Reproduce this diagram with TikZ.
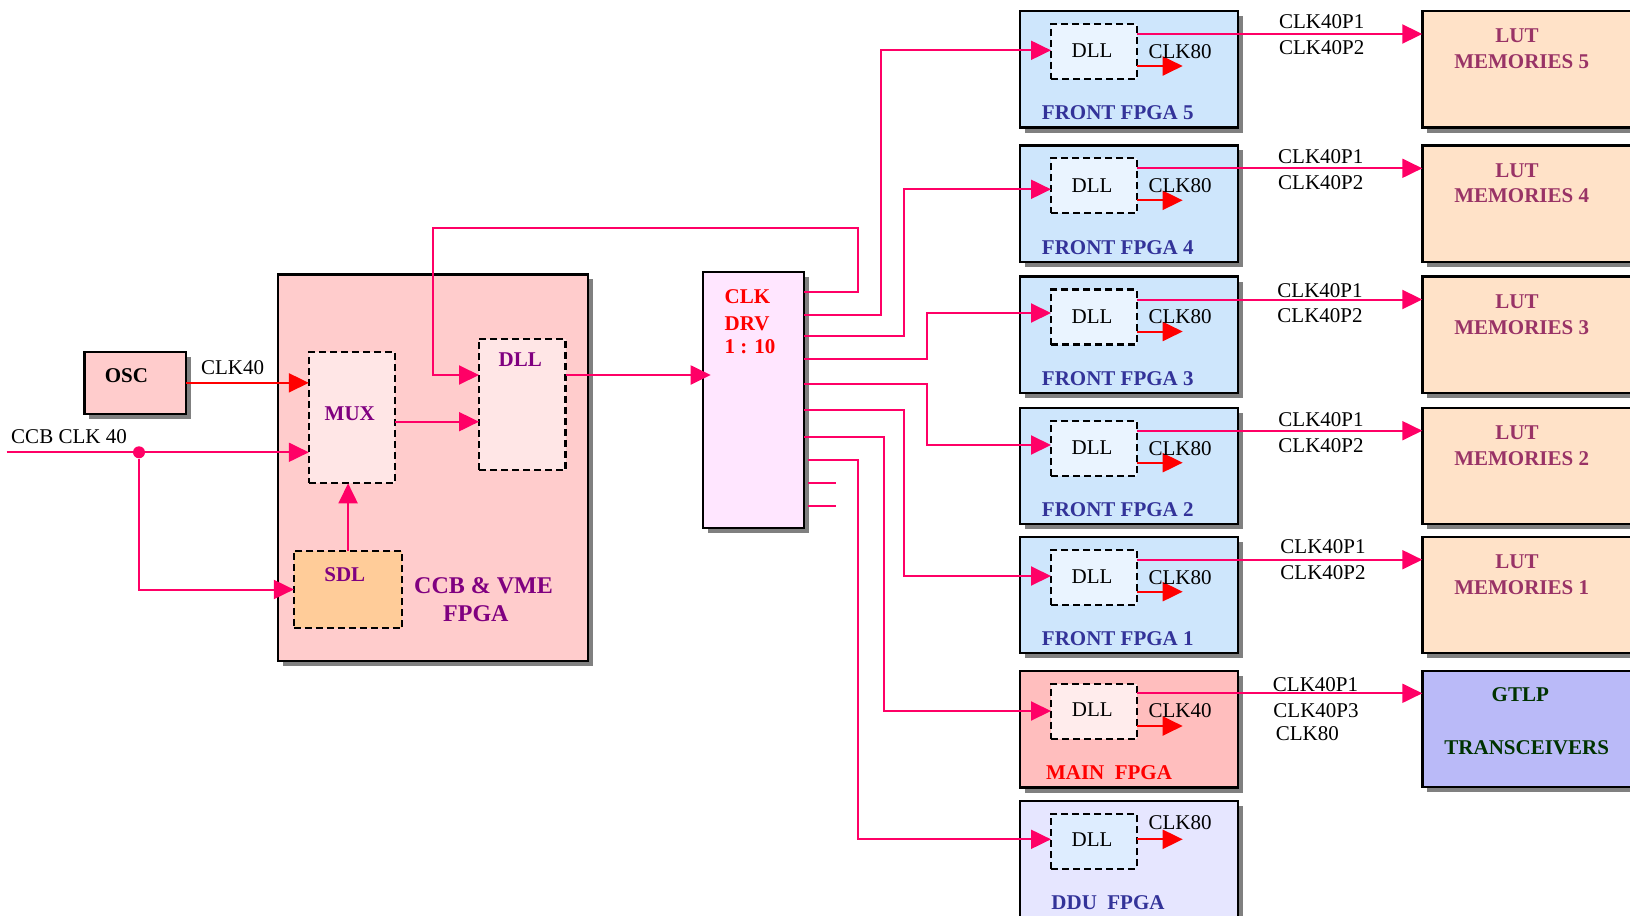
\documentclass[tikz,border=0pt]{standalone}
\usepackage{fontspec}
\setmainfont{Liberation Serif}
\usetikzlibrary{arrows.meta,shadows,fit}
\definecolor{pk}{RGB}{255,0,102}
\definecolor{rd}{RGB}{255,0,0}
\definecolor{ccbfill}{RGB}{255,204,204}
\definecolor{muxfill}{RGB}{255,230,230}
\definecolor{sdlfill}{RGB}{255,204,153}
\definecolor{drvfill}{RGB}{255,230,255}
\definecolor{fpgafill}{RGB}{206,230,252}
\definecolor{fdllfill}{RGB}{234,244,255}
\definecolor{mainfill}{RGB}{255,190,190}
\definecolor{mdllfill}{RGB}{255,236,236}
\definecolor{ddufill}{RGB}{230,230,255}
\definecolor{ddllfill}{RGB}{222,237,255}
\definecolor{lutfill}{RGB}{255,226,200}
\definecolor{gtlpfill}{RGB}{186,186,248}
\definecolor{purp}{RGB}{128,0,128}
\definecolor{fblue}{RGB}{51,51,153}
\definecolor{lutc}{RGB}{153,51,102}
\definecolor{gtc}{RGB}{0,51,0}
\definecolor{shd}{RGB}{128,128,128}
\newcommand{\myfs}{\fontsize{10.5}{12}\selectfont}
\newcommand{\mybig}{\fontsize{12}{14}\selectfont}
\tikzset{
 bx/.style={draw=black, line width=1.2pt, inner sep=0pt, outer sep=0pt,
   drop shadow={shadow xshift=2.5pt,shadow yshift=-2.5pt,fill=shd,opacity=1}},
 dbx/.style={draw=black, line width=1.1pt, dash pattern=on 3.5pt off 2pt, inner sep=0pt, outer sep=0pt},
 pa/.style={draw=pk, line width=1pt, -{Triangle[length=10pt,width=9.5pt]}},
 pl/.style={draw=pk, line width=1pt},
 ra/.style={draw=rd, line width=1pt, -{Triangle[length=10pt,width=9.5pt]}},
 txt/.style={font=\myfs, inner sep=0pt},
 btxt/.style={font=\myfs\bfseries, inner sep=0pt},
}
\begin{document}
\begin{tikzpicture}[x=0.5pt,y=-0.5pt]
\useasboundingbox (0,0) rectangle (1630,916);
\clip (0,0) rectangle (1630,916);
% ---------------- left part boxes
\node[bx, fill=ccbfill, fit={(84.3,351.7) (185.8,414)}] (osc) {};
\node[bx, fill=ccbfill, fit={(277.8,274.3) (588,661)}] (ccb) {};
\node[dbx, fill=muxfill, fit={(308.8,351.7) (394.6,483.3)}] (mux) {};
\node[dbx, fill=muxfill, fit={(479,338.7) (565.5,470)}] (cdll) {};
\node[dbx, fill=sdlfill, fit={(293.9,550.7) (402.3,628.3)}] (sdl) {};
\node[bx, fill=drvfill, fit={(702.7,272) (804,528)}] (drv) {};
% ---------------- right part boxes
\foreach \n/\T in {5/11, 4/145.3, 3/276.5, 2/407.7, 1/536.7}{
  \node[bx, fill=fpgafill, fit={(1020,\T) (1237.7,\T+116.5)}] (f\n) {};
  \node[dbx, fill=fdllfill, fit={(1051,\T+13) (1136.7,\T+68)}] (d\n) {};
  \node[bx, fill=lutfill, fit={(1422.3,\T) (1680,\T+116.5)}] (lut\n) {};
}
\node[bx, fill=mainfill, fit={(1020,671) (1237.7,787.5)}] (fm) {};
\node[dbx, fill=mdllfill, fit={(1051,684) (1136.7,739)}] (dm) {};
\node[bx, fill=gtlpfill, fit={(1422.3,670.7) (1680,786.7)}] (gtlp) {};
\node[bx, fill=ddufill, fit={(1020,800.7) (1237.7,940)}] (fd) {};
\node[dbx, fill=ddllfill, fit={(1051,813.7) (1136.7,868.7)}] (dd) {};
% ---------------- coordinates
\coordinate (ccbin) at (6.5,452.3);
\node[circle, fill=pk, inner sep=0pt, minimum size=6pt] (dot) at (139,452.3) {};
\coordinate (mxo) at (394.6,421.7);
\coordinate (cin) at (479,375);
\coordinate (drvin) at (710.7,375);
\coordinate (o1) at (804,292);
\coordinate (o2) at (804,315);
\coordinate (o3) at (804,336.3);
\coordinate (o4) at (804,359.3);
\coordinate (o5) at (804,384.3);
\coordinate (o6) at (804,410);
\coordinate (o7) at (804,436.7);
\coordinate (o8) at (808.3,460.3);
\coordinate (o9) at (808.3,483.3);
\coordinate (o10) at (808.3,506);
\coordinate (s9) at (835.7,483.3);
\coordinate (s10) at (835.7,506);
\coordinate (in5) at (1051,50.3);
\coordinate (in4) at (1051,189.3);
\coordinate (in3) at (1051,313);
\coordinate (in2) at (1051,445);
\coordinate (in1) at (1051,576);
\coordinate (inm) at (1051,711);
\coordinate (ind) at (1051,839.3);
% ---------------- left connectors
\draw[ra] (osc.east) -- (mux.west |- osc.east);
\draw[pl] (ccbin) -- (dot);
\draw[pa] (dot) -- (mux.west |- dot);
\draw[pa] (dot) |- (sdl.west);
\draw[pa] (sdl.north) -- (mux.south -| sdl.north);
\draw[pa] (mxo) -- (cdll.west |- mxo);
\draw[pa] (cdll.east |- drvin) -- (drvin);
\draw[pa] (o1) -| (858,228) -| (433,375) -- (cin);
% ---------------- driver outputs
\draw[pa] (o2) -| (881,50.3) -- (in5);
\draw[pa] (o3) -| (904,189.3) -- (in4);
\draw[pa] (o4) -| (927,313) -- (in3);
\draw[pa] (o5) -| (927,445) -- (in2);
\draw[pa] (o6) -| (904.3,576) -- (in1);
\draw[pa] (o7) -| (884.3,711) -- (inm);
\draw[pa] (o8) -| (858.3,839.3) -- (ind);
\draw[pl] (o9) -- (s9);
\draw[pl] (o10) -- (s10);
% ---------------- FPGA internal and LUT links
\foreach \n/\T in {5/11, 4/145.3, 3/276.5, 2/407.7, 1/536.7}{
  \coordinate (lo\n) at (1136.7,\T+23);
  \coordinate (ce\n) at (1182.7,\T+55);
  \draw[pa] (lo\n) -- (lut\n.west |- lo\n);
  \draw[ra] (d\n.east |- ce\n) -- (ce\n);
  \node[txt] (dt\n) at (1092,\T+40) {DLL};
  \node[txt] (ct\n) at (1180,\T+40.5) {CLK80};
  \node[btxt, text=fblue] (fl\n) at (1117.8,\T+102) {FRONT FPGA \n};
  \node[btxt, text=lutc] (lu\n) at (1517,\T+25) {LUT};
  \node[btxt, text=lutc] (lm\n) at (1521.7,\T+50.7) {MEMORIES \n};
}
\foreach \n/\pa/\pb/\px in {5/21.7/47.7/1321.7, 4/156.7/182.7/1320.8, 3/291/316/1320, 2/420/446/1321, 1/546.8/572.8/1323}{
  \node[txt] (pa\n) at (\px,\pa) {CLK40P1};
  \node[txt] (pb\n) at (\px,\pb) {CLK40P2};
}
% main fpga
\coordinate (lom) at (1136.7,693.3);
\coordinate (cem) at (1182.7,726);
\draw[pa] (lom) -- (gtlp.west |- lom);
\draw[ra] (dm.east |- cem) -- (cem);
\node[txt] (dtm) at (1092.4,710) {DLL};
\node[txt] (ctm) at (1180,710.7) {CLK40};
\node[btxt, text=rd] (flm) at (1109,772.7) {MAIN\ \ FPGA};
\node[txt] (pm1) at (1315.5,685) {CLK40P1};
\node[txt] (pm3) at (1316,710.7) {CLK40P3};
\node[txt] (pm8) at (1307.4,733.3) {CLK80};
\node[btxt, text=gtc] (gt1) at (1520.3,695) {GTLP};
\node[btxt, text=gtc] (gt2) at (1526.7,747.3) {TRANSCEIVERS};
% ddu fpga
\coordinate (ced) at (1182.7,839.3);
\draw[ra] (dd.east |- ced) -- (ced);
\node[txt] (dtd) at (1092,839.3) {DLL};
\node[txt] (ctd) at (1180,823) {CLK80};
\node[btxt, text=fblue] (fld) at (1108,902.7) {DDU\ \ FPGA};
% ---------------- left texts
\node[btxt] (osct) at (126.4,376) {OSC};
\node[txt] (clk40) at (232.6,367.3) {CLK40};
\node[txt] (ccbclk) at (69,436.7) {CCB CLK 40};
\node[btxt, text=purp] (muxt) at (349.8,414) {MUX};
\node[btxt, text=purp] (cdllt) at (520.3,360) {DLL};
\node[btxt, text=purp] (sdlt) at (344.8,575) {SDL};
\node[font=\mybig\bfseries, text=purp, inner sep=0pt] (ccbt1) at (483.5,586) {CCB \& VME};
\node[font=\mybig\bfseries, text=purp, inner sep=0pt] (ccbt2) at (475.9,614) {FPGA};
\node[btxt, text=rd, anchor=west] (drv1) at (724.3,296.7) {CLK};
\node[btxt, text=rd, anchor=west] (drv2) at (724.3,323.3) {DRV};
\node[btxt, text=rd, anchor=west] (drv3) at (724.3,346.7) {1 : 10};
\end{tikzpicture}
\end{document}
